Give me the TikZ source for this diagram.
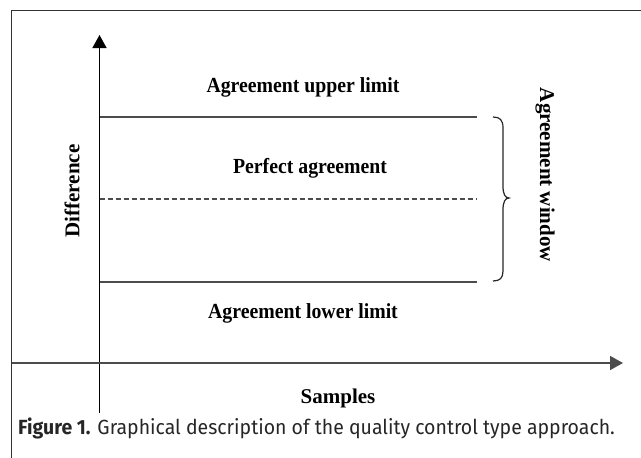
\documentclass[tikz,border=0pt]{standalone}
\usepackage{fontspec}
\setmainfont{Liberation Serif}
\newfontfamily\condserif[FakeStretch=0.92]{Liberation Serif}
\newfontfamily\capfont[FakeStretch=0.95]{Fira Sans}
\usetikzlibrary{arrows.meta}
\begin{document}
\begin{tikzpicture}[x=1pt,y=-1pt,
  axis/.style={draw=black,line width=1.3pt},
  limit/.style={draw=black!70,line width=1.3pt},
  lbl/.style={font=\fontsize{21}{24}\selectfont\bfseries,inner sep=0pt},
  hlbl/.style={font=\fontsize{21.5}{24}\selectfont\condserif\bfseries,inner sep=0pt},
  tip/.style={-{Triangle[length=13pt,width=14pt]}}]
\useasboundingbox (0,0) rectangle (641,458);
\draw[draw=black!80,line width=1.5pt] (660,10.5) -- (11.5,10.5) -- (11.5,470);
% axes
\coordinate (ytop) at (99.5,35);
\coordinate (ybot) at (99.5,413);
\coordinate (xl) at (11.5,363);
\coordinate (xr) at (623,363);
\draw[axis,tip] (ybot) -- (ytop);
\draw[draw=black!70,line width=1.5pt,tip] (xl) -- (xr);
% limit lines
\coordinate (u1) at (99.5,117); \coordinate (u2) at (477,117);
\coordinate (m1) at (99.5,199); \coordinate (m2) at (477,199);
\coordinate (l1) at (99.5,282); \coordinate (l2) at (477,282);
\draw[limit] (u1) -- (u2);
\draw[limit] (l1) -- (l2);
\draw[draw=black!70,line width=1.1pt,dash pattern=on 5pt off 3pt] (m1) -- (m2);
% brace
\draw[draw=black!85,line width=1.2pt] (493,117) .. controls (500,117) and (503,120) .. (503,128) -- (503,186) .. controls (503,194) and (505,198) .. (509,198) .. controls (505,198) and (503,202) .. (503,210) -- (503,271) .. controls (503,278) and (500,281) .. (493,281);
% labels
\node[hlbl] (up) at (303,87) {Agreement upper limit};
\node[hlbl] (pa) at (310,168) {Perfect agreement};
\node[hlbl] (lo) at (303,313) {Agreement lower limit};
\node[lbl] (sa) at (338,398) {Samples};
\node[lbl,rotate=90] (di) at (72,191) {Difference};
\node[lbl,rotate=-90] (aw) at (545,175) {Agreement window};
\node[anchor=west,inner sep=0pt,font=\fontsize{20.5}{24}\selectfont\capfont,text=black!85] (cap) at (18,428) {\textbf{Figure 1.} Graphical description of the quality control type approach.};
\end{tikzpicture}
\end{document}
